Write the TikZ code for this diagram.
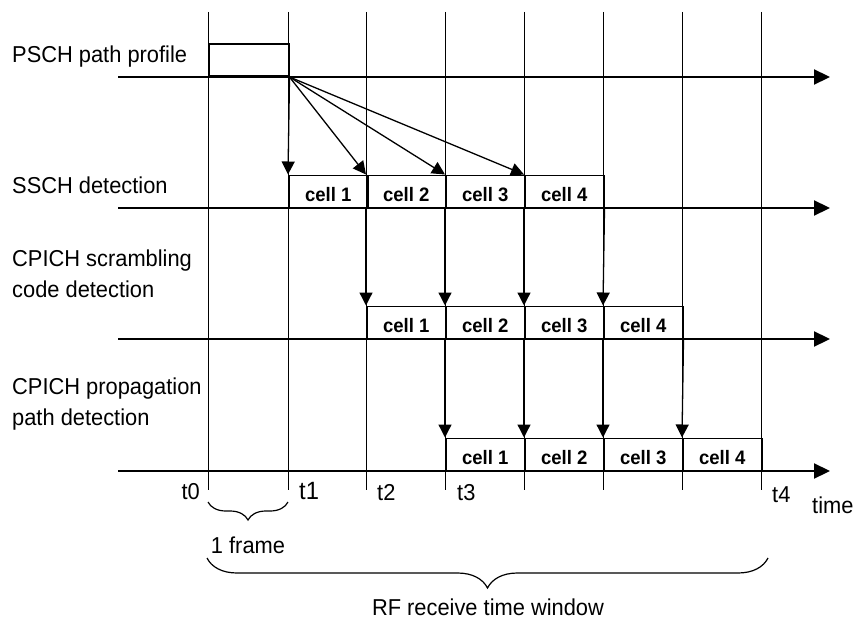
\documentclass[tikz,border=0pt]{standalone}
\usepackage{fontspec}
\setmainfont{Liberation Sans}[FakeStretch=0.95]
\usetikzlibrary{arrows.meta,decorations.pathreplacing}

\tikzset{
  lbl/.style={anchor=base west,align=left,inner sep=0pt,
    font=\fontsize{23}{31}\selectfont},
  cellbox/.style={draw,line width=1.5pt,anchor=south west,inner sep=0pt,
    minimum width=79pt,minimum height=32pt,text height=21pt,text depth=0pt,
    font=\fontsize{19.5}{19.5}\selectfont\bfseries},
  axis/.style={line width=2.2pt,-{Triangle[length=16pt,width=15pt]}},
  grid/.style={line width=1pt},
  hit/.style={line width=1.3pt,-{Triangle[length=13pt,width=13pt]}},
  brc/.style={line width=1.2pt,decorate,decoration={brace,mirror,amplitude=#1}}
}

\begin{document}
\begin{tikzpicture}[x=1pt,y=-1pt]
        \useasboundingbox (0,0) rectangle (856,623);

        % time grid
        \draw[grid] (208,12) -- (208,490);
        \draw[grid] (288,12) -- (288,490);
        \draw[grid] (366,12) -- (366,490);
        \draw[grid] (445,12) -- (445,490);
        \draw[grid] (524,12) -- (524,490);
        \draw[grid] (603,12) -- (603,490);
        \draw[grid] (682,12) -- (682,490);
        \draw[grid] (761,12) -- (761,490);

        % axes
        \draw[axis] (118,77)  -- (830,77);
        \draw[axis] (118,208) -- (830,208);
        \draw[axis] (118,339) -- (830,339);
        \draw[axis] (118,471) -- (830,471);

        \begin{scope}[every node/.style={lbl}]
          \node (l1) at (12,63)  {PSCH path profile};
          \node (l2) at (12,193) {SSCH detection};
          \node (l3) at (12,297) {CPICH scrambling\\code detection};
          \node (l4) at (12,425) {CPICH propagation\\path detection};
        \end{scope}

        % PSCH profile
        \node[draw,line width=1.5pt,anchor=south west,inner sep=0pt,
          minimum width=80pt,minimum height=32pt] (p) at (208,77) {};

        \begin{scope}[every node/.style={cellbox}]
          \node (s1) at (288,208) {cell 1};
          \node (s2) at (366,208) {cell 2};
          \node (s3) at (445,208) {cell 3};
          \node (s4) at (524,208) {cell 4};

          \node (c1) at (366,339) {cell 1};
          \node (c2) at (445,339) {cell 2};
          \node (c3) at (524,339) {cell 3};
          \node (c4) at (603,339) {cell 4};

          \node (d1) at (445,471) {cell 1};
          \node (d2) at (524,471) {cell 2};
          \node (d3) at (603,471) {cell 3};
          \node (d4) at (682,471) {cell 4};
        \end{scope}

        \begin{scope}[every edge/.style={draw,hit}]
          \path (p.south east)  edge (s1.north west);
          \path (p.south east)  edge (s2.north west);
          \path (p.south east)  edge (s3.north west);
          \path (p.south east)  edge (s4.north west);

          \path (s2.south west) edge (c1.north west);
          \path (s3.south west) edge (c2.north west);
          \path (s4.south west) edge (c3.north west);
          \path (s4.south east) edge (c4.north west);

          \path (c2.south west) edge (d1.north west);
          \path (c3.south west) edge (d2.north west);
          \path (c4.south west) edge (d3.north west);
          \path (c4.south east) edge (d4.north west);
        \end{scope}

        \begin{scope}[every node/.style={inner sep=0pt,font=\fontsize{23}{23}\selectfont}]
          \node[anchor=base east] (t0) at (200,499) {t0};
          \node[anchor=base west,font=\fontsize{25}{25}\selectfont] (t1) at (299,499) {t1};
          \node[anchor=base west] (t2) at (377,500) {t2};
          \node[anchor=base west] (t3) at (457,500) {t3};
          \node[anchor=base west] (t4) at (772,502) {t4};
          \node[anchor=base west] (tm) at (812,513) {time};
        \end{scope}

        % frame and window
        \coordinate (f0) at (208,502);
        \coordinate (f1) at (288,502);
        \coordinate (w0) at (207,558);
        \coordinate (w1) at (768,558);
        \draw[brc=18pt] (f0) -- (f1);
        \draw[brc=30pt] (w0) -- (w1);
        \node[lbl,anchor=base] (fr) at (248,553) {1 frame};
        \node[lbl,anchor=base] (rf) at (488,615) {RF receive time window};

      \end{tikzpicture}
\end{document}
